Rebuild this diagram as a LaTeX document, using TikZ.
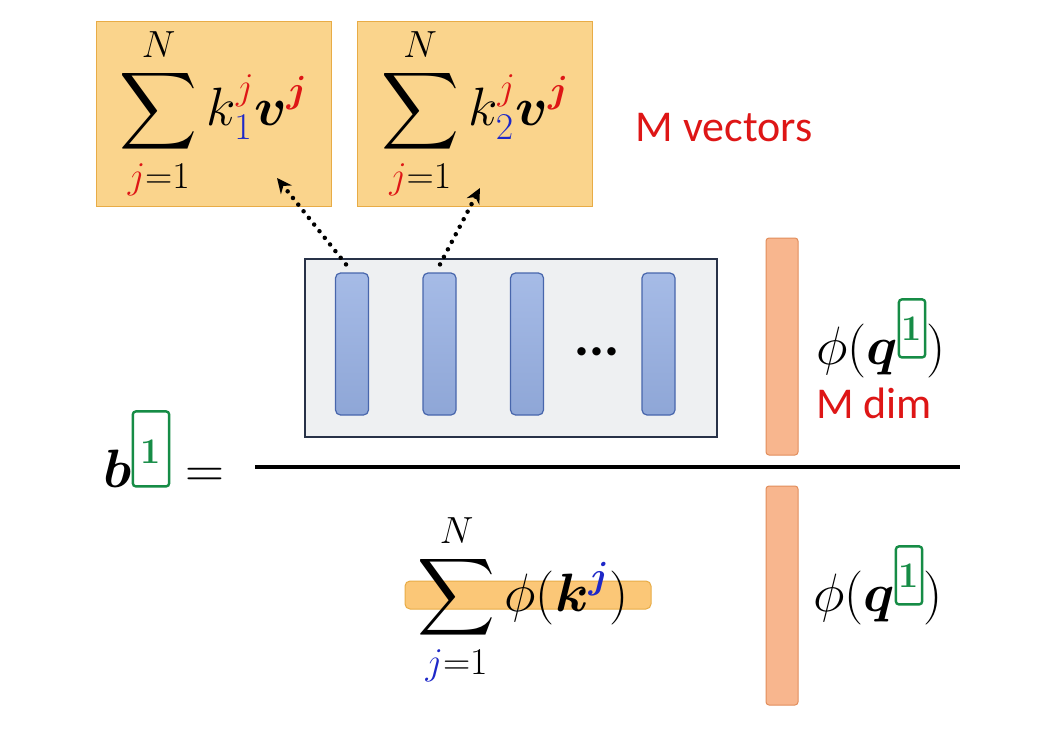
\RequirePackage{fix-cm}
\documentclass[tikz,border=0pt]{standalone}
\usepackage{amsmath,bm}
\usepackage{fontspec}
\newfontfamily\slidefont{Carlito}
\usetikzlibrary{arrows.meta}
\DeclareFontShape{OMX}{cmex}{m}{n}{<->cmex10}{}

% 色の定義
\definecolor{ired}{RGB}{222,22,22}
\definecolor{iblue}{RGB}{30,40,200}
\definecolor{igreen}{RGB}{22,140,70}
\definecolor{boxorange}{RGB}{250,212,140}
\definecolor{boxedge}{RGB}{232,172,70}
\definecolor{barfill}{RGB}{150,175,226}
\definecolor{baredge}{RGB}{72,102,172}
\definecolor{salmon}{RGB}{248,182,142}
\definecolor{salmonedge}{RGB}{226,142,92}

\tikzset{
  mathfont/.style={font=\fontsize{54}{60}\selectfont},
  sumbox/.style={draw=boxedge, line width=1pt, fill=boxorange, minimum width=235pt, minimum height=184pt, inner sep=0pt, mathfont},
  redtext/.style={text=ired, font=\slidefont\fontsize{44}{50}\selectfont},
  graybox/.style={draw={rgb,255:red,40;green,50;blue,72}, line width=1.2pt, fill={rgb,255:red,238;green,240;blue,242}, minimum width=412pt, minimum height=178pt, inner sep=0pt},
  vbar/.style={draw=baredge, line width=1.2pt, top color=barfill!85!white, bottom color=barfill!95!black, rounded corners=5pt, minimum width=33pt, minimum height=142pt, inner sep=0pt},
  sbar/.style={draw=salmonedge, line width=1pt, fill=salmon, rounded corners=3pt, minimum width=32pt, inner sep=0pt},
  kbar/.style={draw=boxedge, line width=1pt, fill=boxorange!85!orange, rounded corners=5pt, minimum width=246pt, minimum height=28pt, inner sep=0pt},
  dotarrow/.style={line width=4.5pt, dash pattern=on 0pt off 8.5pt, line cap=round, -{Stealth[length=15pt,width=14pt]}},
  gbox/.style={draw=igreen, line width=2.4pt, rounded corners=3pt, text=igreen, font=\bfseries\fontsize{36}{36}\selectfont, inner xsep=3pt, inner ysep=3pt, text height=38pt, text depth=14pt},
  gboxb/.style={gbox, inner xsep=8pt, text height=49pt, text depth=20pt}
}

% 緑の枠付き 1
\newcommand{\gone}[1][gbox]{\raisebox{4pt}[\height][0pt]{\tikz[baseline=(g.base)]\node[#1](g){1};}}

\begin{document}
\begin{tikzpicture}[x=1pt, y=-1pt]
  \useasboundingbox (0,0) rectangle (1054,733);
  \fill[white] (0,0) rectangle (1054,733);

  % 上の二つの和 (M 個のベクトル)
  \node[sumbox] (s1) at (213.5,114) {$\displaystyle\sum_{\textcolor{ired}{j}=1}^{N} k_{\textcolor{iblue}{1}}^{\textcolor{ired}{j}}\bm{v}^{\textcolor{ired}{\bm{j}}}$};
  \node[sumbox] (s2) at (475,114) {$\displaystyle\sum_{\textcolor{ired}{j}=1}^{N} k_{\textcolor{iblue}{2}}^{\textcolor{ired}{j}}\bm{v}^{\textcolor{ired}{\bm{j}}}$};
  \node[redtext] (mv) at (724,128) {M vectors};

  % 分子: 行列とその列
  \node[graybox] (kv) at (511,348) {};
  \foreach \n/\x in {1/352,2/439.5,3/527,4/658.5}
    \node[vbar] (v\n) at (\x,344) {};
  \node[font=\slidefont\bfseries\fontsize{56}{60}\selectfont] (dots) at (597,352) {...};

  % 列から和への点線矢印
  \coordinate (t1) at (277,178);
  \coordinate (t2) at (480,188);
  \draw[dotarrow] ([xshift=-6pt,yshift=8pt]v1.north) -- (t1);
  \draw[dotarrow] ([xshift=0.5pt,yshift=8pt]v2.north) -- (t2);

  % phi(q^1) の縦ベクトル
  \node[sbar, minimum height=217pt] (q1) at (782,346.5) {};
  \node[mathfont, anchor=base] (pq1) at (881,364) {$\phi(\bm{q}^{\gone})$};
  \node[redtext] (md) at (874,403) {M dim};

  % 分数の線と左辺
  \draw[line width=4.5pt] (255,467) -- (960,467);
  \node[mathfont, anchor=base west] (b) at (100,487) {$\bm{b}^{\gone[gboxb]}=$};

  % 分母
  \node[kbar] (hl) at (528,595) {};
  \node[mathfont] (ks) at (523,600) {$\displaystyle\sum_{\textcolor{iblue}{j}=1}^{N}\phi(\bm{k}^{\textcolor{iblue}{\bm{j}}})$};
  \node[sbar, minimum height=219pt] (q2) at (782,595.5) {};
  \node[mathfont, anchor=base] (pq2) at (878,611) {$\phi(\bm{q}^{\gone})$};

\end{tikzpicture}
\end{document}
